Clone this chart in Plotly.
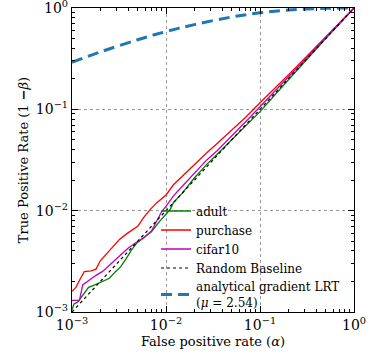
import plotly.graph_objects as go

# ---- data ----
adult_fpr = [1.0e-3, 1.05e-3, 1.15e-3, 1.3e-3, 1.5e-3, 1.75e-3, 2.1e-3, 2.5e-3, 2.9e-3, 3.3e-3, 3.8e-3, 4.3e-3,
             4.9e-3, 5.8e-3, 7.0e-3, 8.5e-3, 1.0e-2, 1.1e-2, 1.2e-2, 1.5e-2, 2.0e-2, 2.7e-2, 3.5e-2, 5.0e-2,
             7.0e-2, 0.1, 0.15, 0.2, 0.3, 0.5, 0.7, 1.0]
adult_tpr = [1.05e-3, 1.2e-3, 1.25e-3, 1.45e-3, 1.75e-3, 1.85e-3, 2.0e-3, 2.15e-3, 2.5e-3, 2.8e-3, 3.4e-3, 4.1e-3,
             4.8e-3, 5.4e-3, 6.2e-3, 7.8e-3, 9.3e-3, 1.02e-2, 1.2e-2, 1.5e-2, 2.1e-2, 2.85e-2, 3.6e-2, 5.0e-2,
             6.8e-2, 0.095, 0.145, 0.196, 0.296, 0.5, 0.7, 1.0]

purchase_fpr = [1.0e-3, 1.1e-3, 1.25e-3, 1.35e-3, 1.6e-3, 1.8e-3, 2.0e-3, 2.3e-3, 2.7e-3, 3.2e-3, 3.8e-3, 4.4e-3,
                5.0e-3, 5.8e-3, 6.8e-3, 8.0e-3, 1.0e-2, 1.2e-2, 1.5e-2, 2.0e-2, 2.7e-2, 3.5e-2, 5.0e-2, 7.0e-2,
                0.1, 0.15, 0.2, 0.3, 0.5, 0.7, 1.0]
purchase_tpr = [1.6e-3, 1.75e-3, 2.2e-3, 2.5e-3, 2.55e-3, 2.65e-3, 3.2e-3, 3.7e-3, 4.3e-3, 5.2e-3, 5.9e-3, 6.5e-3,
                7.0e-3, 8.6e-3, 1.03e-2, 1.2e-2, 1.43e-2, 1.8e-2, 2.2e-2, 2.85e-2, 3.7e-2, 4.6e-2, 6.2e-2, 8.3e-2,
                0.116, 0.167, 0.218, 0.32, 0.515, 0.71, 1.0]

cifar_fpr = [1.0e-3, 1.2e-3, 1.3e-3, 1.5e-3, 1.8e-3, 2.1e-3, 2.5e-3, 2.9e-3, 3.3e-3, 4.0e-3, 4.9e-3, 5.8e-3,
             7.0e-3, 8.0e-3, 9.0e-3, 1.0e-2, 1.2e-2, 1.5e-2, 2.0e-2, 2.7e-2, 3.5e-2, 5.0e-2, 7.0e-2, 0.1,
             0.15, 0.2, 0.3, 0.5, 0.7, 1.0]
cifar_tpr = [1.3e-3, 1.3e-3, 1.85e-3, 2.05e-3, 2.3e-3, 2.5e-3, 2.9e-3, 3.3e-3, 3.7e-3, 4.3e-3, 4.9e-3, 5.4e-3,
             6.3e-3, 8.0e-3, 9.8e-3, 1.1e-2, 1.4e-2, 1.75e-2, 2.35e-2, 3.15e-2, 3.9e-2, 5.4e-2, 7.5e-2, 0.106,
             0.157, 0.208, 0.31, 0.51, 0.705, 1.0]

baseline_fpr = [1e-3, 1.0]
baseline_tpr = [1e-3, 1.0]

lrt_fpr = [1e-3, 2e-3, 5e-3, 1e-2, 2e-2, 5e-2, 0.1, 0.2, 0.5, 1.0]
lrt_tpr = [0.291, 0.368, 0.486, 0.585, 0.686, 0.815, 0.896, 0.955, 0.9945, 1.0]

tick_vals = [1e-3, 1e-2, 1e-1, 1e0]
tick_text = ["10<sup>−3</sup>", "10<sup>−2</sup>", "10<sup>−1</sup>", "10<sup>0</sup>"]

FONT = "DejaVu Serif"

fig = go.Figure()
fig.add_trace(go.Scatter(x=adult_fpr, y=adult_tpr, mode="lines", name="adult",
                         line=dict(color="#008000", width=1.3)))
fig.add_trace(go.Scatter(x=purchase_fpr, y=purchase_tpr, mode="lines", name="purchase",
                         line=dict(color="#ff0000", width=1.3)))
fig.add_trace(go.Scatter(x=cifar_fpr, y=cifar_tpr, mode="lines", name="cifar10",
                         line=dict(color="#bf00bf", width=1.3)))
fig.add_trace(go.Scatter(x=baseline_fpr, y=baseline_tpr, mode="lines", name="Random Baseline",
                         line=dict(color="black", width=1.2, dash="dot")))
fig.add_trace(go.Scatter(x=lrt_fpr, y=lrt_tpr, mode="lines", line_shape="spline",
                         name="analytical gradient LRT<br>(<i>μ</i> = 2.54)",
                         line=dict(color="#1f77b4", width=3, dash="11px,6px")))

axis_common = dict(
    type="log",
    automargin=False,
    ticklabeloverflow="allow",
    tickvals=tick_vals,
    ticktext=tick_text,
    ticks="inside",
    ticklen=6,
    tickwidth=1,
    tickcolor="black",
    showline=True,
    linecolor="black",
    linewidth=1.2,
    mirror="allticks",
    showgrid=True,
    gridcolor="#999999",
    griddash="dot",
    gridwidth=1,
    zeroline=False,
    tickfont=dict(family=FONT, size=14, color="black"),
    minor=dict(ticks="inside", ticklen=3, tickcolor="black", showgrid=False,
               tickvals=[k * 10 ** e for e in (-3, -2, -1) for k in range(2, 10)]),
)

fig.update_xaxes(**axis_common, range=[-3, 0],
                 title=dict(text="False positive rate (<i>α</i>)", font=dict(family=FONT, size=13, color="black"),
                            standoff=4))
fig.update_yaxes(**axis_common, range=[-3, 0],
                 title=dict(text="True Positive Rate (1 <b>−</b><i>β</i>)", font=dict(family=FONT, size=13, color="black"),
                            standoff=4))

fig.update_layout(
    width=370, height=356,
    margin=dict(l=72, r=16, t=8, b=44),
    plot_bgcolor="white",
    paper_bgcolor="white",
    font=dict(family=FONT, color="black"),
    legend=dict(x=0.298, y=0.38, xanchor="left", yanchor="top",
                bgcolor="rgba(0,0,0,0)", borderwidth=0,
                font=dict(family=FONT, size=12, color="black"),
                itemwidth=30, tracegroupgap=0),
    showlegend=True,
)

fig.write_html("out.html", config={"displayModeBar": False},
               post_script="document.body.style.margin='0';")
